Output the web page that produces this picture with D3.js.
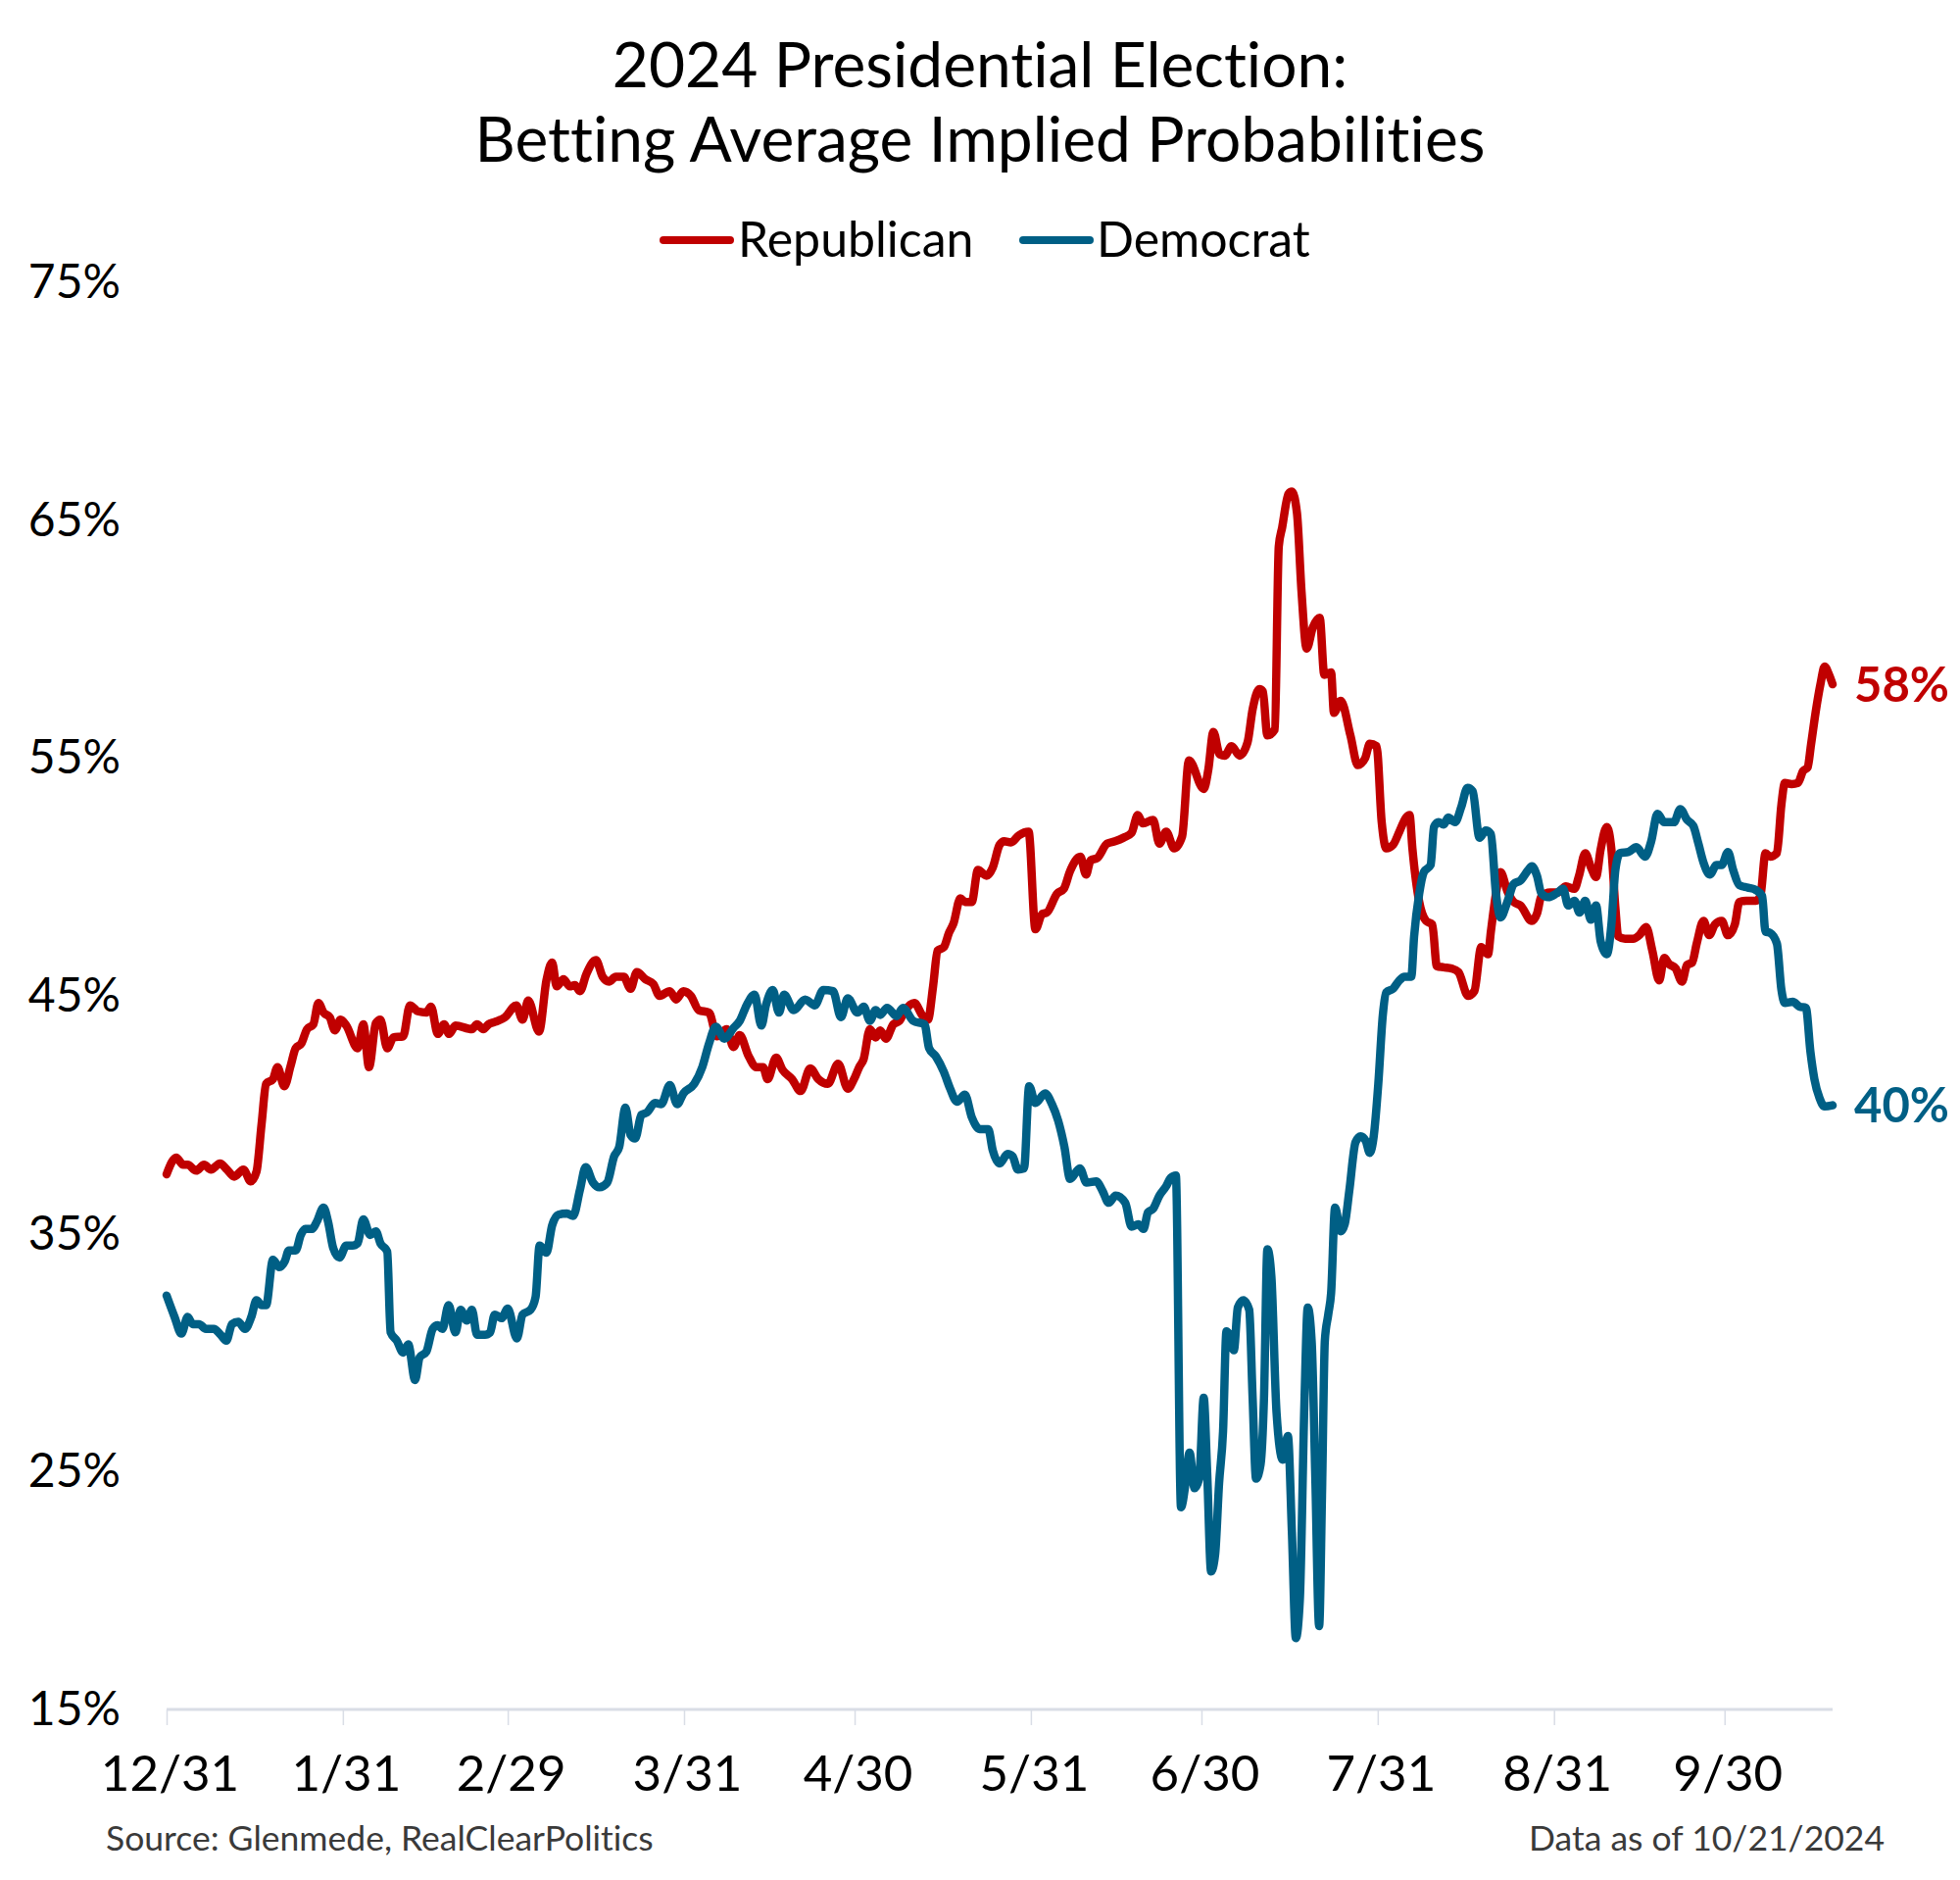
<!DOCTYPE html>
<html>
<head>
<meta charset="utf-8">
<script src="https://cdn.jsdelivr.net/npm/d3@7"></script>
<style>
  html, body { margin: 0; padding: 0; background: #ffffff; }
  svg { display: block; font-family: Lato, "Noto Sans", sans-serif; font-variant-ligatures: none; font-feature-settings: "liga" 0, "clig" 0; }
</style>
</head>
<body>
<svg id="chart" width="2000" height="1918"></svg>
<script>
// ---------------- data ----------------
const startDate = "2023-12-31";          // day 0 of the series
const endDate = "2024-10-19";            // last plotted day
const titleLines = ["2024 Presidential Election:", "Betting Average Implied Probabilities"];
const seriesNames = ["Republican", "Democrat"];
const xTickDates = ["2023-12-31", "2024-01-31", "2024-02-29", "2024-03-31", "2024-04-30",
                    "2024-05-31", "2024-06-30", "2024-07-31", "2024-08-31", "2024-09-30"];
const yTicks = [15, 25, 35, 45, 55, 65, 75];

// [days since 12/31/2023, implied probability %]
const republican = [
[0,37.5],[1.7,38.2],[2.9,37.9],[3.7,37.9],[5.2,37.65],[6.6,37.9],[7.8,37.7],[9.4,37.95],[10.6,37.7],[11.9,37.4],
[13.5,37.7],[14.8,37.2],[15.8,37.6],[16.7,39.6],[17.5,41.3],[18.7,41.5],[19.5,42.0],[20.7,41.2],[21.8,42.05],[22.7,42.8],
[23.7,43.0],[24.7,43.6],[25.8,43.8],[26.7,44.7],[27.6,44.3],[28.7,44.1],[29.6,43.55],[30.6,44.0],[31.6,43.75],[33.6,42.8],
[34.6,43.8],[35.6,42.0],[36.8,43.85],[37.6,44.0],[38.8,42.8],[39.9,43.25],[41.6,43.3],[42.8,44.6],[44.2,44.35],[45.7,44.3],
[46.5,44.55],[47.7,43.4],[48.8,43.8],[49.7,43.4],[50.8,43.75],[53.7,43.6],[54.6,43.8],[55.7,43.6],[56.6,43.8],[57.7,43.9],
[59.5,44.1],[61.5,44.6],[62.6,44.0],[63.6,44.8],[65.5,43.5],[66.8,45.65],[67.8,46.4],[68.6,45.4],[69.8,45.7],[70.9,45.4],
[71.8,45.45],[72.7,45.2],[73.8,45.9],[75.5,46.5],[76.7,45.8],[77.8,45.6],[79.0,45.8],[80.4,45.8],[81.6,45.3],[82.7,46.0],
[84.2,45.7],[85.6,45.5],[86.7,45.0],[88.5,45.2],[89.6,44.85],[90.9,45.2],[92.2,45.0],[93.6,44.4],[95.4,44.3],[96.8,43.3],
[98.5,43.6],[99.7,42.85],[100.8,43.35],[102.3,42.5],[103.7,42.0],[104.9,42.0],[105.7,41.5],[107.2,42.4],[108.3,41.9],[110.0,41.5],
[111.5,41.0],[113.2,41.95],[114.6,41.5],[116.3,41.3],[118.1,42.15],[119.8,41.1],[120.9,41.5],[121.8,42.0],[122.6,42.35],[123.7,43.6],
[124.7,43.25],[125.5,43.55],[126.5,43.2],[127.8,43.8],[128.9,43.95],[129.8,44.35],[131.5,44.7],[133.0,44.15],[133.9,44.0],[134.8,45.4],
[135.6,46.9],[136.7,47.05],[137.6,47.65],[138.4,48.05],[139.6,49.1],[140.4,48.95],[141.6,48.95],[142.7,50.3],[144.2,50.05],[145.3,50.4],
[146.5,51.35],[147.3,51.5],[148.5,51.45],[149.9,51.75],[151.6,51.9],[152.8,47.8],[154.0,48.45],[154.8,48.5],[156.6,49.3],[157.8,49.5],
[158.9,50.25],[160.7,50.85],[161.7,50.1],[162.5,50.7],[163.7,50.8],[165.4,51.4],[166.8,51.5],[168.3,51.65],[169.7,51.85],[170.8,52.6],
[171.7,52.25],[173.5,52.4],[174.6,51.4],[175.8,51.9],[177.2,51.2],[178.6,51.7],[179.8,54.9],[182.4,53.7],[183.2,54.5],[184.1,56.1],
[185.2,55.15],[186.1,55.1],[187.3,55.5],[188.7,55.1],[190.1,55.65],[191.0,57.05],[192.2,57.9],[192.8,57.8],[193.6,55.95],[194.9,56.2],
[195.6,63.9],[196.2,64.7],[197.3,66.1],[197.9,66.2],[198.8,65.3],[199.6,62.0],[200.5,59.6],[201.6,60.5],[202.8,60.9],[203.6,58.5],
[204.8,58.6],[205.3,56.9],[206.5,57.4],[208.2,55.95],[209.5,54.7],[210.8,55.0],[211.6,55.6],[212.8,55.5],[213.7,52.3],[214.5,51.2],
[215.7,51.35],[216.8,51.9],[218.0,52.5],[218.6,52.6],[219.1,51.2],[220.3,48.95],[221.5,48.15],[222.6,48.0],[223.4,46.25],[224.6,46.2],
[226.0,46.15],[227.2,46.0],[228.9,45.0],[230.0,45.2],[231.2,47.05],[232.4,46.75],[232.9,47.7],[233.8,49.3],[234.6,50.2],[235.8,49.4],
[236.9,48.95],[238.1,48.8],[240.1,48.15],[241.0,48.45],[241.8,49.2],[243.3,49.35],[244.7,49.35],[246.1,49.6],[247.6,49.5],[248.4,50.05],
[249.5,51.0],[250.5,50.4],[251.4,50.0],[252.2,51.15],[253.3,52.1],[254.1,51.15],[254.8,48.7],[255.3,47.5],[256.5,47.4],[257.9,47.4],
[259.0,47.55],[260.2,47.9],[261.3,46.9],[262.5,45.65],[263.4,46.6],[264.2,46.35],[265.4,46.15],[266.5,45.6],[267.4,46.3],[268.3,46.4],
[269.1,47.2],[270.3,48.15],[271.3,47.55],[272.3,48.0],[273.5,48.15],[274.6,47.55],[275.8,48.0],[276.6,48.95],[277.8,49.0],[279.5,49.0],
[280.3,49.2],[281.2,51.0],[282.0,50.85],[283.2,51.0],[284.0,53.05],[284.6,53.95],[285.8,53.9],[286.9,53.95],[287.8,54.45],[288.6,54.6],
[289.2,55.55],[290.0,56.9],[290.9,58.15],[291.6,58.85],[292.3,58.55],[293.0,58.1]
];

const democrat = [
[0,32.4],[1.4,31.5],[2.6,30.8],[3.7,31.5],[4.6,31.2],[5.7,31.2],[6.9,31.0],[8.3,31.0],[9.5,30.75],[10.5,30.5],
[11.5,31.2],[12.6,31.3],[13.8,31.0],[14.9,31.5],[15.8,32.2],[16.7,32.0],[17.5,32.0],[18.7,33.9],[19.8,33.6],[20.8,33.85],
[21.5,34.3],[22.7,34.3],[23.6,34.95],[24.4,35.2],[25.6,35.2],[26.4,35.5],[27.6,36.1],[28.4,35.5],[29.3,34.4],[30.4,34.0],
[31.6,34.5],[32.7,34.5],[33.6,34.6],[34.6,35.6],[35.8,34.95],[36.8,35.1],[37.6,34.6],[38.8,34.25],[39.4,30.85],[40.5,30.5],
[41.6,30.0],[42.5,30.35],[43.7,28.85],[44.5,29.8],[45.7,30.05],[46.8,31.0],[47.7,31.15],[48.5,31.0],[49.6,32.0],[50.8,30.85],
[51.7,31.8],[52.8,31.35],[53.7,31.8],[54.6,30.75],[56.0,30.75],[56.9,30.85],[57.7,31.6],[58.9,31.45],[60.0,31.85],[61.6,30.6],
[62.6,31.6],[64.0,31.8],[64.9,32.35],[65.6,34.5],[66.8,34.2],[67.8,35.35],[68.9,35.8],[70.4,35.85],[71.5,35.75],[72.7,36.85],
[73.7,37.8],[75.0,37.15],[76.1,36.95],[77.5,37.15],[78.7,38.25],[79.6,38.65],[80.7,40.3],[81.6,39.15],[82.4,39.0],[83.5,40.0],
[84.5,40.1],[85.9,40.5],[87.0,40.45],[88.5,41.25],[89.8,40.45],[90.9,40.9],[92.8,41.3],[94.2,42.0],[95.4,43.0],[96.6,43.7],
[98.1,43.2],[99.7,43.65],[100.8,43.95],[102.0,44.6],[103.4,45.05],[104.6,43.75],[105.4,44.6],[106.6,45.25],[107.7,44.3],[108.6,45.05],
[110.3,44.4],[112.3,44.85],[114.0,44.6],[115.5,45.25],[117.2,45.2],[118.6,44.1],[119.8,44.9],[121.5,44.3],[122.6,44.55],[123.7,43.95],
[124.7,44.4],[125.5,44.2],[126.7,44.5],[128.4,44.15],[129.5,44.5],[131.3,43.95],[133.3,43.8],[134.1,42.8],[135.3,42.45],[136.7,41.8],
[137.8,41.1],[139.0,40.55],[140.4,40.85],[141.6,39.9],[143.0,39.4],[144.5,39.4],[145.3,38.5],[146.5,37.95],[147.9,38.35],[148.8,38.25],
[149.7,37.7],[150.8,37.75],[151.7,41.2],[152.8,40.5],[154.5,40.9],[155.7,40.45],[156.8,39.75],[157.9,38.65],[158.9,37.3],[160.6,37.75],
[161.8,37.15],[163.5,37.2],[164.6,36.8],[165.7,36.3],[166.9,36.6],[168.6,36.3],[169.7,35.3],[170.9,35.4],[171.8,35.2],[172.6,35.9],
[173.5,36.05],[174.6,36.6],[175.8,37.0],[176.6,37.35],[177.5,37.45],[178.4,23.5],[179.2,24.5],[179.9,25.8],[180.8,24.3],[181.6,24.7],
[182.4,28.1],[183.0,25.0],[183.7,20.8],[184.4,21.5],[185.1,24.5],[185.8,26.7],[186.4,30.9],[187.1,30.6],[187.7,30.1],[188.4,31.9],
[189.4,32.2],[190.4,31.8],[191.0,28.1],[191.6,24.7],[192.4,25.3],[193.0,28.1],[193.6,34.35],[194.3,33.2],[195.2,27.5],[196.3,25.5],
[197.2,26.5],[197.9,22.5],[198.6,18.0],[199.3,19.6],[200.1,27.8],[200.7,31.9],[201.4,30.4],[202.0,25.0],[202.7,18.5],[203.2,24.0],
[203.7,30.5],[204.3,31.6],[204.8,32.5],[205.5,36.1],[206.5,35.1],[207.2,35.4],[208.0,36.8],[209.1,38.85],[210.0,39.1],[210.9,38.9],
[211.6,38.4],[212.3,39.1],[213.1,41.3],[213.9,44.2],[214.5,45.15],[215.7,45.3],[216.8,45.65],[217.7,45.8],[218.9,45.8],[219.4,47.5],
[220.3,49.3],[221.1,50.2],[222.3,50.5],[222.9,52.1],[223.7,52.3],[224.6,52.2],[225.4,52.5],[226.6,52.3],[227.7,52.95],[228.8,53.75],
[229.7,53.6],[230.9,51.65],[232.0,51.95],[232.9,51.8],[233.8,49.3],[234.6,48.3],[235.8,48.95],[236.9,49.7],[238.1,49.85],[239.5,50.3],
[240.1,50.45],[241.0,50.05],[241.8,49.3],[243.0,49.15],[244.4,49.3],[245.6,49.5],[246.5,48.8],[247.6,49.0],[248.5,48.5],[249.5,49.0],
[250.5,48.2],[251.4,48.8],[252.2,47.3],[253.3,46.75],[254.1,48.0],[254.8,50.3],[255.6,51.0],[257.1,51.05],[258.5,51.25],[260.0,50.85],
[261.1,51.5],[262.2,52.65],[263.4,52.3],[265.1,52.3],[266.2,52.85],[267.4,52.4],[268.5,52.15],[269.4,51.4],[270.3,50.6],[271.4,50.1],
[272.6,50.5],[273.5,50.5],[274.6,51.05],[275.5,50.3],[276.6,49.65],[278.1,49.55],[279.5,49.45],[280.6,49.2],[281.2,47.7],[282.0,47.65],
[283.2,47.2],[284.0,45.25],[284.6,44.7],[286.0,44.75],[287.2,44.55],[288.3,44.5],[289.1,42.65],[289.8,41.5],[290.7,40.7],[291.6,40.35],
[293.0,40.4]
];

const colors = { Republican: "#C00000", Democrat: "#005F85" };
const sourceText = "Source: Glenmede, RealClearPolitics";
const asOfText = "Data as of 10/21/2024";

// ---------------- drawing ----------------
const svg = d3.select("#chart");
const parse = d3.utcParse("%Y-%m-%d");
const t0 = parse(startDate);
const toDate = d => new Date(t0.getTime() + d * 86400000);

const x = d3.scaleUtc().domain([t0, parse(endDate)]).range([170, 1870]);
const y = d3.scaleLinear().domain([15, 75]).range([1744, 288]);

// title
svg.append("g").selectAll("text").data(titleLines).join("text")
  .attr("x", 1000).attr("y", (d, i) => 89 + i * 76)
  .attr("text-anchor", "middle")
  .attr("font-size", 64).attr("fill", "#000")
  .text(d => d);

// legend
const legendPos = [{ sx: 677, tx: 753 }, { sx: 1044, tx: 1119 }];
const leg = svg.append("g");
seriesNames.forEach((name, i) => {
  leg.append("line")
    .attr("x1", legendPos[i].sx).attr("x2", legendPos[i].sx + 68)
    .attr("y1", 245).attr("y2", 245)
    .attr("stroke", colors[name]).attr("stroke-width", 8).attr("stroke-linecap", "round");
  leg.append("text")
    .attr("x", legendPos[i].tx).attr("y", 262)
    .attr("font-size", 50).attr("fill", "#000")
    .text(name);
});

// y axis (labels only)
const yAxis = svg.append("g").attr("transform", "translate(123,0)")
  .call(d3.axisLeft(y).tickValues(yTicks).tickSize(0).tickPadding(0).tickFormat(d => d + "%"));
yAxis.select(".domain").remove();
yAxis.selectAll("text").attr("font-size", 48).attr("font-family", "Lato").attr("fill", "#000");

// x axis
const xAxis = svg.append("g").attr("transform", "translate(0,1744)")
  .call(d3.axisBottom(x).tickValues(xTickDates.map(parse)).tickSize(16).tickPadding(0)
        .tickFormat(d3.utcFormat("%-m/%-d")));
xAxis.select(".domain").attr("stroke", "#D9DDE6").attr("stroke-width", 3)
  .attr("d", `M${x.range()[0]},0H${x.range()[1]}`);
xAxis.selectAll(".tick line").attr("stroke", "#D9DDE6").attr("stroke-width", 1.5);
xAxis.selectAll("text").attr("font-size", 51).attr("font-family", "Lato").attr("fill", "#000")
  .attr("dy", null).attr("y", 83).attr("dx", 3);

// lines
const line = d3.line()
  .x(d => x(toDate(d[0])))
  .y(d => y(d[1]))
  .curve(d3.curveMonotoneX);

const series = [
  { name: "Republican", data: republican },
  { name: "Democrat", data: democrat }
];

svg.append("g").selectAll("path").data(series).join("path")
  .attr("d", s => line(s.data))
  .attr("fill", "none")
  .attr("stroke", s => colors[s.name])
  .attr("stroke-width", 8.5)
  .attr("stroke-linejoin", "round")
  .attr("stroke-linecap", "round");

// end labels
svg.append("g").selectAll("text").data(series).join("text")
  .attr("x", 1892)
  .attr("y", s => y(s.data[s.data.length - 1][1]))
  .attr("dy", "0.36em")
  .attr("font-size", 49).attr("font-weight", 700)
  .attr("fill", s => colors[s.name])
  .text(s => Math.round(s.data[s.data.length - 1][1]) + "%");

// footer
svg.append("text").attr("x", 108).attr("y", 1888)
  .attr("font-size", 35.5).attr("fill", "#3A3A3A").text(sourceText);
svg.append("text").attr("x", 1923).attr("y", 1888).attr("text-anchor", "end")
  .attr("font-size", 35.5).attr("fill", "#3A3A3A").text(asOfText);
</script>
</body>
</html>
